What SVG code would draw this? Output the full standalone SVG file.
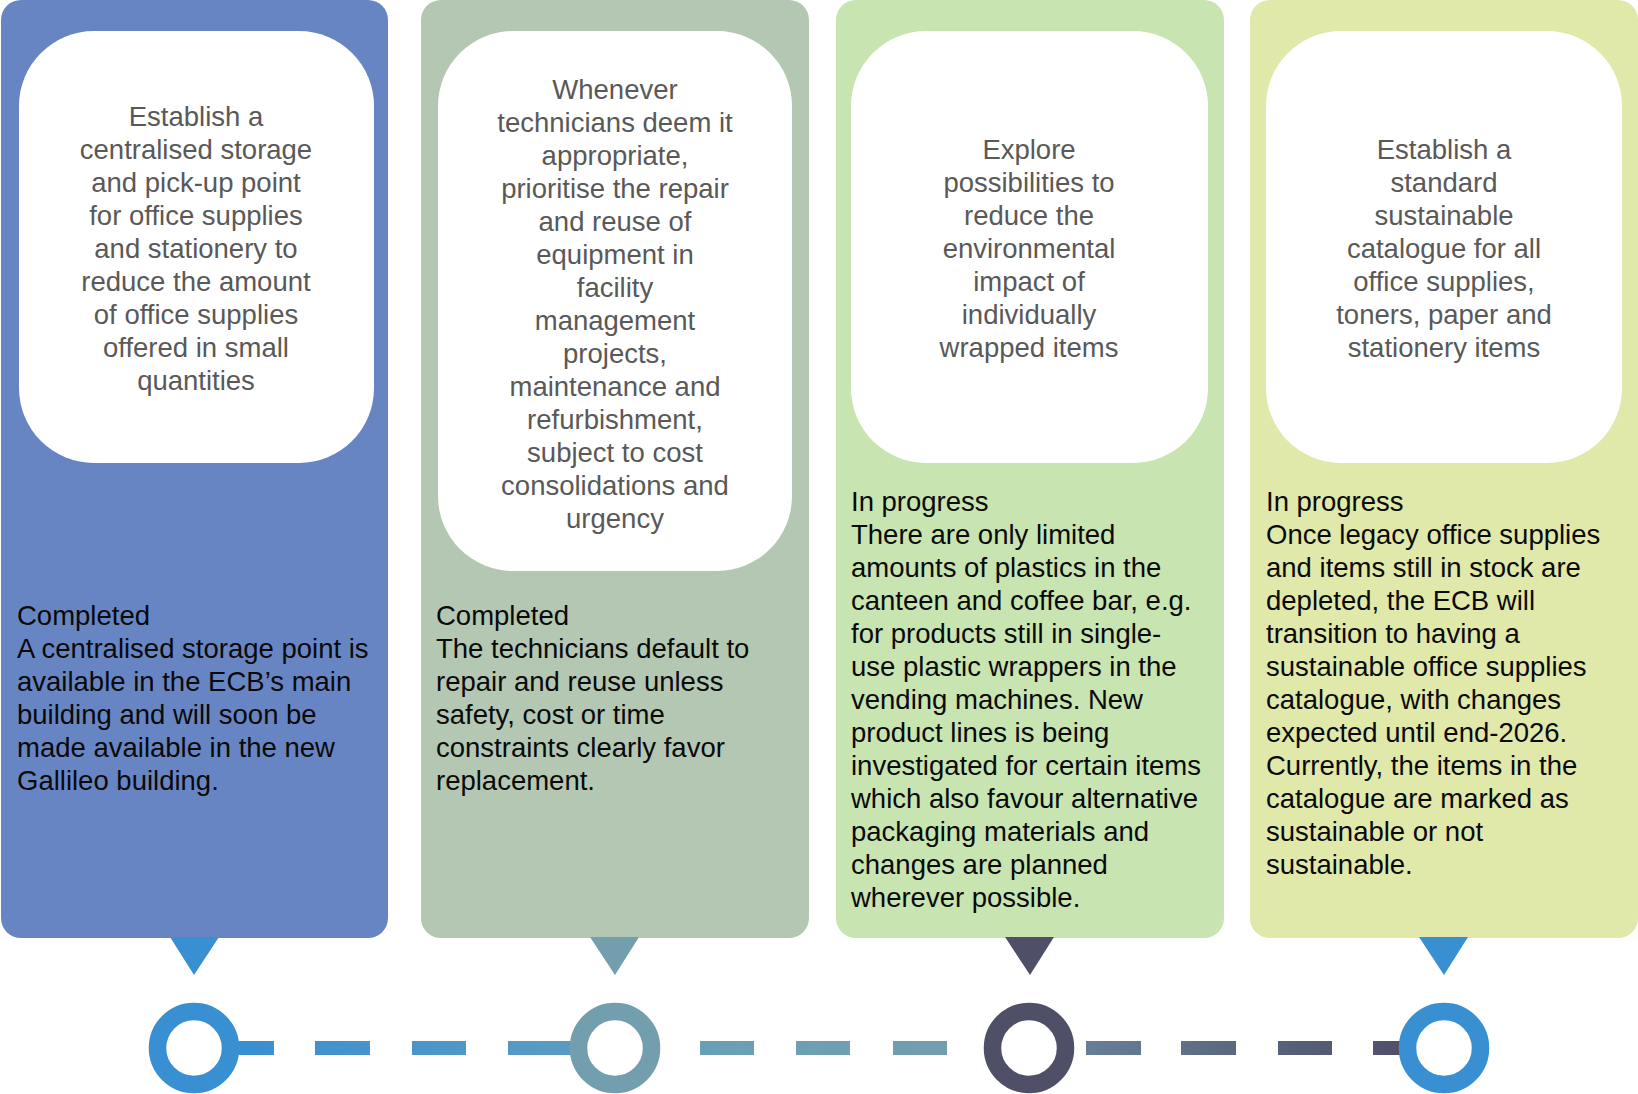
<svg xmlns="http://www.w3.org/2000/svg" width="1638" height="1094" viewBox="0 0 1638 1094">
<style>
.title{font-family:"Liberation Sans",Arial,sans-serif;font-size:27.5px;fill:#595959;text-anchor:middle}
.body{font-family:"Liberation Sans",Arial,sans-serif;font-size:27.5px;fill:#0a0a0a}
.inner{fill:#ffffff}
.ring{fill:none;stroke-width:17.5}
</style>
<defs>
<linearGradient id="dashGrad" gradientUnits="userSpaceOnUse" x1="240" y1="0" x2="1400" y2="0">
<stop offset="0" stop-color="#388FD1"/>
<stop offset="0.284" stop-color="#5A9BC2"/>
<stop offset="0.397" stop-color="#69A0B6"/>
<stop offset="0.61" stop-color="#739EAD"/>
<stop offset="0.73" stop-color="#667F95"/>
<stop offset="1" stop-color="#4F5068"/>
</linearGradient>
</defs>
<rect width="1638" height="1094" fill="#ffffff"/>

<g id="node1">
<rect x="1" y="0" width="387" height="938" rx="20" fill="#6885C3"/>
<rect class="inner" x="19" y="31" width="355" height="432" rx="75"/>
<text class="title" x="196" y="126">Establish a</text>
<text class="title" x="196" y="159">centralised storage</text>
<text class="title" x="196" y="192">and pick-up point</text>
<text class="title" x="196" y="225">for office supplies</text>
<text class="title" x="196" y="258">and stationery to</text>
<text class="title" x="196" y="291">reduce the amount</text>
<text class="title" x="196" y="324">of office supplies</text>
<text class="title" x="196" y="357">offered in small</text>
<text class="title" x="196" y="390">quantities</text>
<text class="body">
<tspan x="17" y="625">Completed</tspan>
<tspan x="17" y="658">A centralised storage point is</tspan>
<tspan x="17" y="691">available in the ECB’s main</tspan>
<tspan x="17" y="724">building and will soon be</tspan>
<tspan x="17" y="757">made available in the new</tspan>
<tspan x="17" y="790">Gallileo building.</tspan>
</text>
<polygon points="170,937 219,937 194,975" fill="#388FD1"/>
</g>

<g id="node2">
<rect x="421" y="0" width="388" height="938" rx="20" fill="#B3C7B3"/>
<rect class="inner" x="438" y="31" width="354" height="540" rx="75"/>
<text class="title" x="615" y="99">Whenever</text>
<text class="title" x="615" y="132">technicians deem it</text>
<text class="title" x="615" y="165">appropriate,</text>
<text class="title" x="615" y="198">prioritise the repair</text>
<text class="title" x="615" y="231">and reuse of</text>
<text class="title" x="615" y="264">equipment in</text>
<text class="title" x="615" y="297">facility</text>
<text class="title" x="615" y="330">management</text>
<text class="title" x="615" y="363">projects,</text>
<text class="title" x="615" y="396">maintenance and</text>
<text class="title" x="615" y="429">refurbishment,</text>
<text class="title" x="615" y="462">subject to cost</text>
<text class="title" x="615" y="495">consolidations and</text>
<text class="title" x="615" y="528">urgency</text>
<text class="body">
<tspan x="436" y="625">Completed</tspan>
<tspan x="436" y="658">The technicians default to</tspan>
<tspan x="436" y="691">repair and reuse unless</tspan>
<tspan x="436" y="724">safety, cost or time</tspan>
<tspan x="436" y="757">constraints clearly favor</tspan>
<tspan x="436" y="790">replacement.</tspan>
</text>
<polygon points="590,937 639,937 615,975" fill="#739EAD"/>
</g>

<g id="node3">
<rect x="836" y="0" width="388" height="938" rx="20" fill="#C8E4B0"/>
<rect class="inner" x="851" y="31" width="357" height="432" rx="75"/>
<text class="title" x="1029" y="159">Explore</text>
<text class="title" x="1029" y="192">possibilities to</text>
<text class="title" x="1029" y="225">reduce the</text>
<text class="title" x="1029" y="258">environmental</text>
<text class="title" x="1029" y="291">impact of</text>
<text class="title" x="1029" y="324">individually</text>
<text class="title" x="1029" y="357">wrapped items</text>
<text class="body">
<tspan x="851" y="511">In progress</tspan>
<tspan x="851" y="544">There are only limited</tspan>
<tspan x="851" y="577">amounts of plastics in the</tspan>
<tspan x="851" y="610">canteen and coffee bar, e.g.</tspan>
<tspan x="851" y="643">for products still in single-</tspan>
<tspan x="851" y="676">use plastic wrappers in the</tspan>
<tspan x="851" y="709">vending machines. New</tspan>
<tspan x="851" y="742">product lines is being</tspan>
<tspan x="851" y="775">investigated for certain items</tspan>
<tspan x="851" y="808">which also favour alternative</tspan>
<tspan x="851" y="841">packaging materials and</tspan>
<tspan x="851" y="874">changes are planned</tspan>
<tspan x="851" y="907">wherever possible.</tspan>
</text>
<polygon points="1005,937 1054,937 1030,975" fill="#4F5068"/>
</g>

<g id="node4">
<rect x="1250" y="0" width="388" height="938" rx="20" fill="#E0E8AA"/>
<rect class="inner" x="1266" y="31" width="356" height="432" rx="75"/>
<text class="title" x="1444" y="159">Establish a</text>
<text class="title" x="1444" y="192">standard</text>
<text class="title" x="1444" y="225">sustainable</text>
<text class="title" x="1444" y="258">catalogue for all</text>
<text class="title" x="1444" y="291">office supplies,</text>
<text class="title" x="1444" y="324">toners, paper and</text>
<text class="title" x="1444" y="357">stationery items</text>
<text class="body">
<tspan x="1266" y="511">In progress</tspan>
<tspan x="1266" y="544">Once legacy office supplies</tspan>
<tspan x="1266" y="577">and items still in stock are</tspan>
<tspan x="1266" y="610">depleted, the ECB will</tspan>
<tspan x="1266" y="643">transition to having a</tspan>
<tspan x="1266" y="676">sustainable office supplies</tspan>
<tspan x="1266" y="709">catalogue, with changes</tspan>
<tspan x="1266" y="742">expected until end-2026.</tspan>
<tspan x="1266" y="775">Currently, the items in the</tspan>
<tspan x="1266" y="808">catalogue are marked as</tspan>
<tspan x="1266" y="841">sustainable or not</tspan>
<tspan x="1266" y="874">sustainable.</tspan>
</text>
<polygon points="1419,937 1468,937 1444,975" fill="#388FD1"/>
</g>

<g id="connectors" fill="url(#dashGrad)">
<rect x="232" y="1041" width="42" height="14"/>
<rect x="315" y="1041" width="55" height="14"/>
<rect x="412" y="1041" width="54" height="14"/>
<rect x="508" y="1041" width="66" height="14"/>
<rect x="700" y="1041" width="54" height="14"/>
<rect x="796" y="1041" width="54" height="14"/>
<rect x="893" y="1041" width="54" height="14"/>
<rect x="1086" y="1041" width="55" height="14"/>
<rect x="1181" y="1041" width="55" height="14"/>
<rect x="1278" y="1041" width="54" height="14"/>
<rect x="1373" y="1041" width="36" height="14"/>
</g>

<g id="timeline-points">
<circle class="ring" cx="194" cy="1048" r="36.5" stroke="#388FD1"/>
<circle class="ring" cx="615" cy="1048" r="36.5" stroke="#739EAD"/>
<circle class="ring" cx="1029" cy="1048" r="36.5" stroke="#4F5068"/>
<circle class="ring" cx="1444" cy="1048" r="36.5" stroke="#388FD1"/>
</g>
</svg>
